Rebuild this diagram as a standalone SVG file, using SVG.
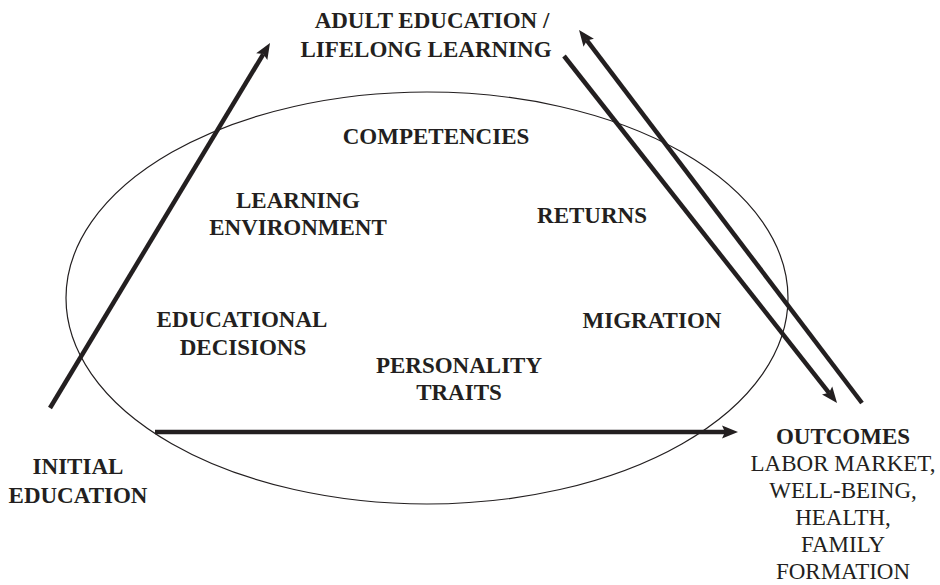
<svg xmlns="http://www.w3.org/2000/svg" width="940" height="585" viewBox="0 0 940 585">
  <style>
    text { font-family: "Liberation Serif", "Times New Roman", serif; font-size: 23px; fill: #231f20; text-anchor: middle; }
    .b { font-weight: bold; }
    .arrow { stroke: #231f20; stroke-width: 4.5; fill: none; marker-end: url(#head); }
    .ring { stroke: #231f20; stroke-width: 1.2; fill: none; }
  </style>
  <defs>
    <marker id="head" markerUnits="userSpaceOnUse" markerWidth="18" markerHeight="16" viewBox="0 -8 18 16" refX="3" refY="0" orient="auto">
      <path d="M16,0 L0,-6.5 L3,0 L0,6.5 Z" fill="#231f20"/>
    </marker>
  </defs>
  <rect width="940" height="585" fill="#ffffff"/>

  <!-- framework ellipse -->
  <ellipse class="ring" cx="427" cy="298" rx="361" ry="206"/>

  <!-- connectors -->
  <g id="connectors">
    <line class="arrow" x1="50" y1="408" x2="263.3" y2="54.1"/>
    <line class="arrow" x1="564" y1="56" x2="829" y2="392.8"/>
    <line class="arrow" x1="862" y1="403" x2="586.9" y2="40.4"/>
    <line class="arrow" x1="155" y1="432" x2="725" y2="432"/>
  </g>

  <g id="adult-education">
    <text class="b" x="432" y="28">ADULT EDUCATION /</text>
    <text class="b" x="426" y="57">LIFELONG LEARNING</text>
  </g>
  <g id="initial-education">
    <text class="b" x="78" y="474">INITIAL</text>
    <text class="b" x="78" y="503">EDUCATION</text>
  </g>
  <g id="outcomes">
    <text class="b" x="843" y="444">OUTCOMES</text>
    <text x="843" y="471">LABOR MARKET,</text>
    <text x="843" y="498">WELL-BEING,</text>
    <text x="843" y="525">HEALTH,</text>
    <text x="843" y="552">FAMILY</text>
    <text x="843" y="579">FORMATION</text>
  </g>
  <g id="competencies">
    <text class="b" x="436" y="144">COMPETENCIES</text>
  </g>
  <g id="learning-environment">
    <text class="b" x="298" y="208">LEARNING</text>
    <text class="b" x="298" y="235">ENVIRONMENT</text>
  </g>
  <g id="returns">
    <text class="b" x="592" y="223">RETURNS</text>
  </g>
  <g id="educational-decisions">
    <text class="b" x="242" y="327">EDUCATIONAL</text>
    <text class="b" x="243" y="355">DECISIONS</text>
  </g>
  <g id="migration">
    <text class="b" x="652" y="328">MIGRATION</text>
  </g>
  <g id="personality-traits">
    <text class="b" x="459" y="373">PERSONALITY</text>
    <text class="b" x="459" y="400">TRAITS</text>
  </g>
</svg>
